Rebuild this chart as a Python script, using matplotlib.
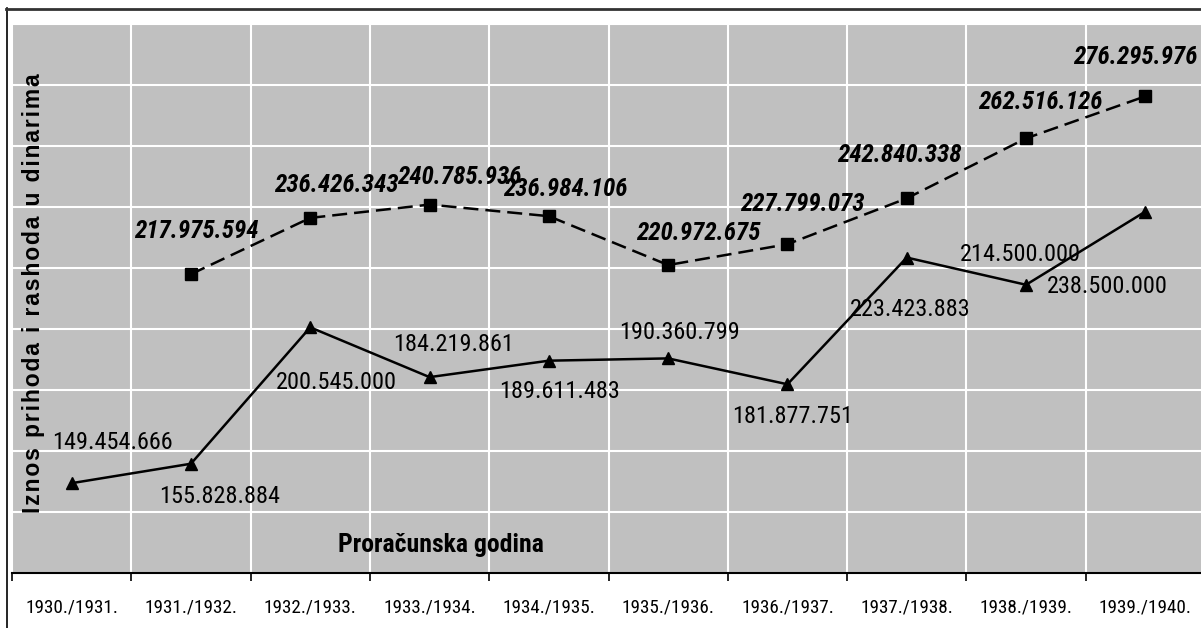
import numpy as np
import matplotlib
matplotlib.use("Agg")
import matplotlib.pyplot as plt
from matplotlib.lines import Line2D

plt.rcParams['font.family'] = ['Liberation Sans', 'DejaVu Sans']
USKO = ['Arial Narrow', 'Liberation Sans Narrow', 'Roboto Condensed',
        'Archivo Narrow', 'Liberation Sans', 'DejaVu Sans']

# proracunske godine i iznosi u dinarima
godine = ["1930./1931.", "1931./1932.", "1932./1933.", "1933./1934.", "1934./1935.",
          "1935./1936.", "1936./1937.", "1937./1938.", "1938./1939.", "1939./1940."]
serija_a = [149454666, 155828884, 200545000, 184219861, 189611483,
            190360799, 181877751, 223423883, 214500000, 238500000]
serija_b = [np.nan, 217975594, 236426343, 240785936, 236984106,
            220972675, 227799073, 242840338, 262516126, 276295976]

# pomaci natpisa u pikselima (dx, dy)
pomak_a = [(41, 41), (29, -33), (26, -55), (24, 33), (11, -31),
           (11, 26), (5, -32), (3, -52), (-6, 30), (-38, -75)]
pomak_b = [None, (5, 43), (26, 33), (30, 28), (16, 27),
           (30, 32), (15, 40), (-7, 43), (14, 36), (-10, 39)]

def fmt(v):
    return f"{int(v):,}".replace(",", ".")

W, H = 1201, 628
fig = plt.figure(figsize=(W / 100, H / 100), dpi=100)
ax = fig.add_axes([12 / W, 55 / H, 1193 / W, 549 / H])

x = np.arange(len(godine))
ax.set_xlim(-0.5, 9.5)
ax.set_ylim(120e6, 300e6)
ax.set_facecolor('#c0c0c0')
ax.set_axisbelow(True)

ax.set_yticks(np.arange(120e6, 300e6 + 1, 20e6))
ax.yaxis.grid(True, color='white', lw=1.5)
ax.tick_params(axis='y', left=False, labelleft=False)

ax.set_xticks(np.arange(-0.5, 10, 1))
ax.xaxis.grid(True, which='major', color='white', lw=1.5)
ax.tick_params(axis='x', which='major', length=6, width=1.2, color='black',
               direction='out', labelbottom=False)
ax.set_xticks(x, minor=True)
ax.set_xticklabels(godine, minor=True, fontsize=13.8, family=USKO)
ax.tick_params(axis='x', which='minor', length=0, pad=18)

for s in ['top', 'left', 'right']:
    ax.spines[s].set_visible(False)
ax.spines['bottom'].set_color('black')
ax.spines['bottom'].set_linewidth(1.5)

ax.plot(x, serija_a, color='black', lw=1.8, marker='^', ms=9, clip_on=False)
ax.plot(x, serija_b, color='black', lw=1.8, ls=(0, (6, 2.8)), marker='s', ms=9,
        clip_on=False)

for i, v in enumerate(serija_a):
    ax.annotate(fmt(v), (x[i], v), xytext=pomak_a[i], textcoords='offset pixels',
                ha='center', va='center', fontsize=17.5, family=USKO)
for i, v in enumerate(serija_b):
    if np.isnan(v):
        continue
    ax.annotate(fmt(v), (x[i], v), xytext=pomak_b[i], textcoords='offset pixels',
                ha='center', va='center', fontsize=18, fontweight='bold',
                fontstyle='italic', family=USKO)

naslov_y = "\u200a".join("Iznos prihoda i rashoda u dinarima")
fig.text(34 / W, 1 - 293 / H, naslov_y, rotation=90, ha='center', va='center',
         fontsize=16.5, fontweight='bold')
fig.text(441 / W, 1 - 545 / H, "Proračunska godina", ha='center', va='center',
         fontsize=18.5, fontweight='bold', family=USKO)

# okvir grafikona
fig.add_artist(Line2D([6.5 / W, 6.5 / W], [0, 1 - 8 / H], color='black', lw=1.2,
                      transform=fig.transFigure))
fig.add_artist(Line2D([6 / W, 1], [1 - 9 / H, 1 - 9 / H], color='#333333', lw=2,
                      transform=fig.transFigure))

fig.savefig('out.png', dpi=100)
